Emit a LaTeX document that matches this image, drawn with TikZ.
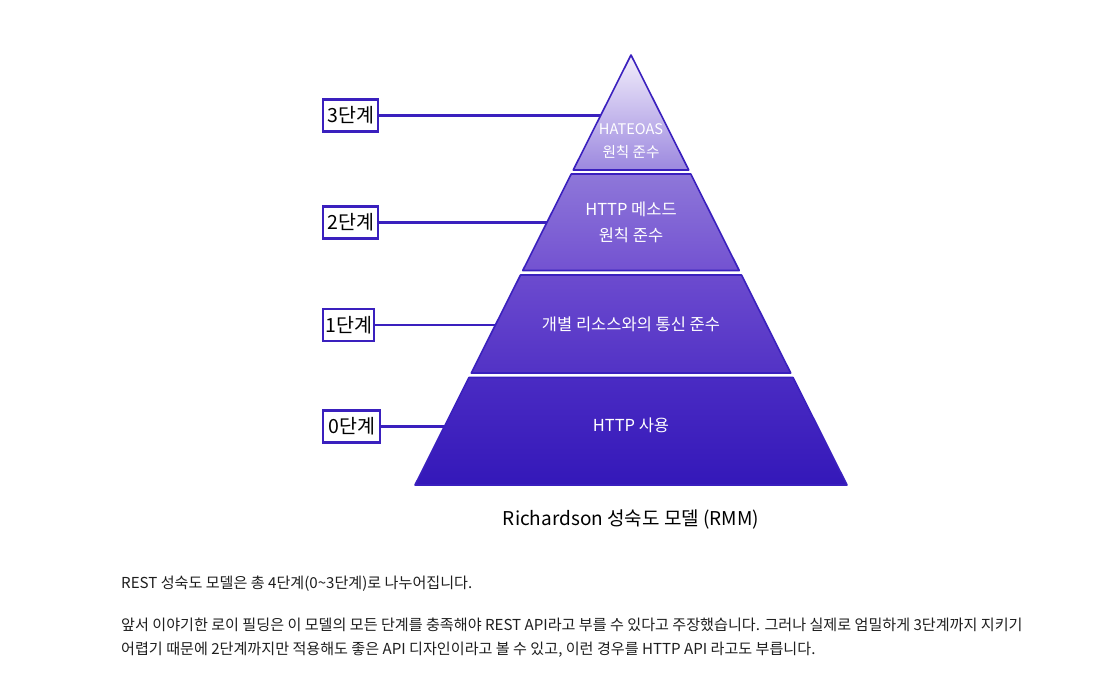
\documentclass[tikz,border=0pt]{standalone}
\usepackage{fontspec}
\setmainfont{Noto Sans CJK KR}
\usetikzlibrary{calc}
\definecolor{edgeblue}{HTML}{3A20BE}
\definecolor{bodytext}{HTML}{1E1E1E}
\colorlet{tiertext}{white}

\begin{document}
\begin{tikzpicture}[x=1pt,y=-1pt,
    levelbox/.style={draw=edgeblue, line width=2.2pt, fill=white, text=black,
        inner sep=0pt, minimum height=32pt, font=\fontsize{19.5}{19.5}\selectfont},
    tierlabel/.style={text=tiertext, align=center, font=\fontsize{16.5}{26}\selectfont},
    paragraph/.style={text=bodytext, anchor=base west, inner sep=0pt, font=\fontsize{15.1}{15.1}\selectfont}]
        \useasboundingbox[fill=white] (0,0) rectangle (1118,689);
        % pyramid tiers: top y / bottom y / top colour / bottom colour
        \foreach \ta/\tb/\ca/\cb in {55/170/F2EEFB/9C88DF, 174/270.5/8E77D9/7352D1,
                275/373/6C4BCF/5232C5, 377.5/485/4A2BC3/3418B9}
        {
            \pgfmathsetmacro{\ha}{(\ta-55)*0.50233}
            \pgfmathsetmacro{\hb}{(\tb-55)*0.50233}
            \definecolor{tiertop}{HTML}{\ca}
            \definecolor{tierbot}{HTML}{\cb}
            \draw[edgeblue, line width=1.6pt, line join=round, top color=tiertop, bottom color=tierbot]
                (631-\ha,\ta) -- (631+\ha,\ta) -- (631+\hb,\tb) -- (631-\hb,\tb) -- cycle;
        }
        % texts on the tiers
        \node[tierlabel, font=\fontsize{14.6}{23}\selectfont] (t3) at (631,141) {HATEOAS\\원칙 준수};
        \node[tierlabel, font=\fontsize{16.5}{26}\selectfont] (t2) at (631,222) {HTTP 메소드\\원칙 준수};
        \node[tierlabel] (t1) at (631,324) {개별 리소스와의 통신 준수};
        \node[tierlabel] (t0) at (631,425) {HTTP 사용};
        % level boxes and connectors
        \foreach \lv/\yy/\ww in {3/115.5/55, 2/222.5/55, 1/325/51, 0/426.5/57}
        {
            \node[levelbox, minimum width=\ww pt, anchor=west] (lv\lv) at (322,\yy) {{\lv}단계};
            \pgfmathsetmacro{\edgex}{631-(\yy-55)*0.50233}
            \coordinate (e\lv) at (\edgex,\yy);
            \draw[edgeblue, line width=2.2pt] (lv\lv.east) -- (e\lv);
        }
        % caption
        \node[text=black, font=\fontsize{19}{19}\selectfont] (cap) at (631,519) {Richardson 성숙도 모델 (RMM)};
        % paragraph below
        \node[paragraph] (p1) at (121,588) {REST 성숙도 모델은 총 4단계(0\textasciitilde3단계)로 나누어집니다.};
        \node[paragraph] (p2) at (121,630) {앞서 이야기한 로이 필딩은 이 모델의 모든 단계를 충족해야 REST API라고 부를 수 있다고 주장했습니다. 그러나 실제로 엄밀하게 3단계까지 지키기};
        \node[paragraph] (p3) at (121,654) {어렵기 때문에 2단계까지만 적용해도 좋은 API 디자인이라고 볼 수 있고, 이런 경우를 HTTP API 라고도 부릅니다.};
    \end{tikzpicture}
\end{document}
